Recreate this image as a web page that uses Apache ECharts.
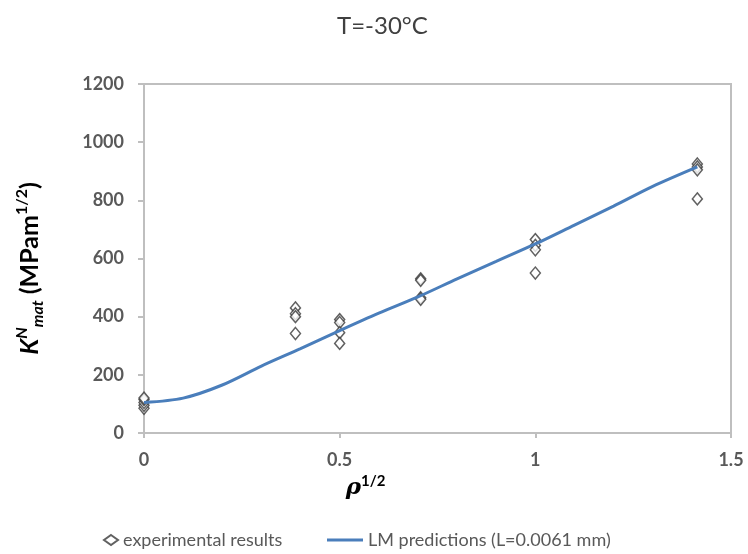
<!DOCTYPE html>
<html>
<head>
<meta charset="utf-8">
<script src="https://cdn.jsdelivr.net/npm/echarts@6/dist/echarts.min.js"></script>
<style>
  html, body { margin: 0; padding: 0; background: #fff; }
  #chart { width: 748px; height: 554px; }
</style>
</head>
<body>
<div id="chart"></div>
<script>
// experimental points (rho^1/2, K)
const expX = [0, 0, 0, 0, 0,
  0.387, 0.387, 0.387, 0.387,
  0.5, 0.5, 0.5, 0.5,
  0.707, 0.707, 0.707, 0.707,
  1, 1, 1, 1,
  1.414, 1.414, 1.414, 1.414]
const expY = [85, 95, 105, 115, 120,
  430, 410, 400, 342,
  390, 380, 345, 308,
  530, 525, 465, 460,
  665, 645, 630, 550,
  925, 915, 905, 805]

// LM prediction curve
const lmX = [0, 0.1, 0.2, 0.3, 0.4, 0.5, 0.6, 0.7, 0.8, 0.9, 1.0, 1.1, 1.2, 1.3, 1.414]
const lmY = [105, 120, 165, 230, 290, 352, 412, 468, 530, 590, 650, 715, 780, 848, 915]

const xTicks = [0, 0.5, 1, 1.5]

const FONT = 'Lato'
const GREY = '#595959'
const AXIS = '#bfbfbf'

const chart = echarts.init(document.getElementById('chart'))
chart.setOption({
  animation: false,
  textStyle: { fontFamily: FONT },
  title: {
    text: 'T=-30°C', left: 332, top: 9,
    textStyle: { fontFamily: FONT, fontSize: 24, fontWeight: 'normal', color: '#404040' },
  },
  grid: { left: 144, right: 17, top: 84, bottom: 121, show: true, borderColor: AXIS, borderWidth: 2 },
  legend: [
    {
      data: ['experimental results'], left: 98, top: 526,
      itemWidth: 14, itemHeight: 10,
      textStyle: { fontFamily: FONT, fontSize: 18, color: GREY },
    },
    {
      data: [{ name: 'LM predictions (L=0.0061 mm)', icon: 'rect' }], left: 322, top: 526,
      itemWidth: 36, itemHeight: 3,
      textStyle: { fontFamily: FONT, fontSize: 18, color: GREY },
    },
  ],
  xAxis: {
    type: 'value', min: 0, max: 1.5, interval: 0.5,
    name: '{r|ρ}{s|1/2}', nameLocation: 'middle', nameGap: 40,
    nameTextStyle: {
      padding: [0, 144, 0, 0],
      rich: {
        r: { fontFamily: 'DejaVu Serif', fontSize: 23, fontWeight: 'bold', fontStyle: 'italic', color: '#000', lineHeight: 28 },
        s: { fontFamily: FONT, fontSize: 15, fontWeight: 'bold', color: '#000', verticalAlign: 'top', lineHeight: 14 },
      },
    },
    axisLine: { lineStyle: { color: AXIS, width: 2 } },
    axisTick: { show: true, length: 5, lineStyle: { color: AXIS, width: 2 } },
    axisLabel: {
      margin: 18, fontSize: 18, fontWeight: 'bold', color: GREY,
      formatter: v => xTicks.includes(v) ? String(v) : '',
    },
    splitLine: { show: false },
  },
  yAxis: {
    type: 'value', min: 0, max: 1200, interval: 200,
    name: '{k|K}{n|N}{m|mat}{b| (MPam}{s|1/2}{b|)}',
    nameLocation: 'middle', nameGap: 98, nameRotate: 90,
    nameTextStyle: {
      padding: [0, 20, 0, 0],
      rich: {
        k: { fontSize: 25, fontWeight: 'bold', fontStyle: 'italic', color: '#000', lineHeight: 32 },
        n: { fontSize: 16, fontWeight: 'bold', fontStyle: 'italic', color: '#000', verticalAlign: 'top', lineHeight: 16 },
        m: { fontSize: 16, fontWeight: 'bold', fontStyle: 'italic', color: '#000', verticalAlign: 'bottom', lineHeight: 16 },
        b: { fontSize: 25, fontWeight: 'bold', color: '#000', lineHeight: 32 },
        s: { fontSize: 16, fontWeight: 'bold', color: '#000', verticalAlign: 'top', lineHeight: 16 },
      },
    },
    axisLine: { show: true, lineStyle: { color: AXIS, width: 2 } },
    axisTick: { show: true, length: 6, lineStyle: { color: AXIS, width: 2 } },
    axisLabel: { margin: 20, fontSize: 18, fontWeight: 'bold', color: GREY, formatter: v => String(v) },
    splitLine: { show: false },
  },
  series: [
    {
      name: 'experimental results', type: 'scatter',
      data: expX.map((x, i) => [x, expY[i]]),
      symbol: 'diamond', symbolSize: [10, 12],
      itemStyle: { color: '#fff', borderColor: '#3a3a3a', borderWidth: 1.5 },
      z: 2,
    },
    {
      name: 'LM predictions (L=0.0061 mm)', type: 'line',
      data: lmX.map((x, i) => [x, lmY[i]]),
      smooth: 0.3, showSymbol: false, symbol: 'none',
      lineStyle: { color: '#4a7ebb', width: 3 },
      itemStyle: { color: '#4a7ebb' },
      z: 3,
    },
  ],
})
</script>
</body>
</html>
